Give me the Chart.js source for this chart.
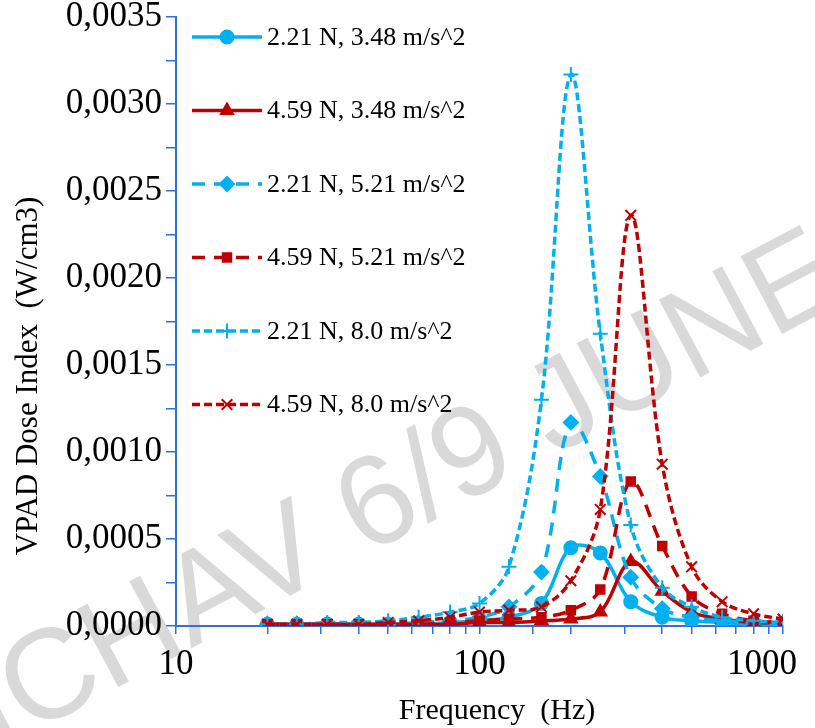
<!DOCTYPE html>
<html>
<head>
<meta charset="utf-8">
<script src="https://cdn.jsdelivr.net/npm/chart.js@4/dist/chart.umd.min.js"></script>
<style>
  html, body { margin: 0; padding: 0; background: #fff; }
  #wrap { width: 815px; height: 728px; position: relative; }
</style>
</head>
<body>
<div id="wrap"><canvas id="myChart" width="815" height="728"></canvas></div>
<script>
// 1/3 octave centre frequencies (Hz)
const freqs = [20, 25, 31.5, 40, 50, 63, 80, 100, 125, 160, 200, 250, 315, 400, 500, 630, 800, 1000];

const seriesNames = [
  "2.21 N, 3.48 m/s^2",
  "4.59 N, 3.48 m/s^2",
  "2.21 N, 5.21 m/s^2",
  "4.59 N, 5.21 m/s^2",
  "2.21 N, 8.0 m/s^2",
  "4.59 N, 8.0 m/s^2"
];

const f221a348 = [0.00001, 0.00001, 0.00001, 0.00001, 0.00001, 0.00001, 0.00002, 0.00003, 0.00005, 0.00013, 0.00045, 0.00042, 0.00014, 0.00005, 0.00003, 0.00002, 0.00001, 0.00001];
const f459a348 = [0.00001, 0.00001, 0.00001, 0.00001, 0.00001, 0.00001, 0.00001, 0.00002, 0.00002, 0.00003, 0.00004, 0.00008, 0.00037, 0.00020, 0.00008, 0.00004, 0.00002, 0.00002];
const f221a521 = [0.00001, 0.00001, 0.00001, 0.00001, 0.00001, 0.00002, 0.00003, 0.00005, 0.00011, 0.00031, 0.00117, 0.00086, 0.00028, 0.00010, 0.00005, 0.00003, 0.00002, 0.00001];
const f459a521 = [0.00001, 0.00001, 0.00001, 0.00001, 0.00001, 0.00001, 0.00002, 0.00003, 0.00004, 0.00005, 0.00009, 0.00021, 0.00083, 0.00046, 0.00017, 0.00007, 0.00003, 0.00002];
const f221a80 = [0.00001, 0.00001, 0.00002, 0.00002, 0.00003, 0.00005, 0.00008, 0.00013, 0.00034, 0.00130, 0.00317, 0.00168, 0.00058, 0.00022, 0.00011, 0.00005, 0.00003, 0.00002];
const f459a80 = [0.00001, 0.00001, 0.00001, 0.00001, 0.00002, 0.00003, 0.00005, 0.00008, 0.00009, 0.00011, 0.00026, 0.00067, 0.00236, 0.00093, 0.00034, 0.00014, 0.00007, 0.00004];

const yTicks = [0, 0.0005, 0.001, 0.0015, 0.002, 0.0025, 0.003, 0.0035];
const xTicks = [10, 100, 1000];

const CYAN = "#00B0F0";
const RED = "#C00000";
const AXIS = "#2F6FE3";
const SERIF = "'Liberation Serif', 'Times New Roman', serif";

const styles = [
  { color: CYAN, dash: [], point: "circle", r: 6.5 },
  { color: RED, dash: [], point: "triangle", r: 7 },
  { color: CYAN, dash: [13, 9], point: "rectRot", r: 7 },
  { color: RED, dash: [13, 9], point: "rect", r: 6 },
  { color: CYAN, dash: [8, 4], point: "cross", r: 7.5 },
  { color: RED, dash: [8, 4], point: "crossRot", r: 7.5 }
];

const allSeries = [f221a348, f459a348, f221a521, f459a521, f221a80, f459a80];

const datasets = allSeries.map((vals, i) => ({
  label: seriesNames[i],
  data: freqs.map((f, j) => ({ x: f, y: vals[j] })),
  borderColor: styles[i].color,
  backgroundColor: styles[i].color,
  borderWidth: 3.5,
  borderDash: styles[i].dash,
  pointStyle: styles[i].point,
  pointRadius: styles[i].r,
  pointBorderWidth: 2,
  pointBackgroundColor: styles[i].color,
  pointBorderColor: styles[i].color,
  tension: 0.35,
  fill: false,
  order: 5 - i
}));

// faint watermark behind everything
const watermark = {
  id: "watermark",
  beforeDraw(chart) {
    const ctx = chart.ctx;
    ctx.save();
    ctx.fillStyle = "#fff";
    ctx.fillRect(0, 0, chart.width, chart.height);
    ctx.translate(-4, 752);
    ctx.rotate(-28 * Math.PI / 180);
    ctx.font = "128px 'Liberation Sans', Arial, sans-serif";
    ctx.fillStyle = "#d9d9d9";
    ctx.textAlign = "left";
    ctx.textBaseline = "alphabetic";
    ctx.fillText("ICHAV 6/9 JUNE", 0, 0);
    ctx.restore();
  }
};

// legend drawn inside the plot, top left
const insideLegend = {
  id: "insideLegend",
  afterDatasetsDraw(chart) {
    const ctx = chart.ctx;
    chart.data.datasets.forEach((ds, i) => {
      const y = 37 + i * 73.5;
      ctx.save();
      ctx.strokeStyle = ds.borderColor;
      ctx.fillStyle = ds.borderColor;
      ctx.lineWidth = 3.5;
      ctx.setLineDash(ds.borderDash);
      ctx.beginPath();
      ctx.moveTo(192, y);
      ctx.lineTo(262, y);
      ctx.stroke();
      ctx.setLineDash([]);
      ctx.lineWidth = 2;
      Chart.helpers.drawPoint(ctx, {
        pointStyle: ds.pointStyle,
        rotation: 0,
        radius: ds.pointRadius,
        borderWidth: 2
      }, 227, y);
      ctx.fillStyle = "#000";
      ctx.font = "26px " + SERIF;
      ctx.textBaseline = "middle";
      ctx.textAlign = "left";
      ctx.fillText(ds.label, 267, y + 1);
      ctx.restore();
    });
  }
};

// x tick labels (kept inside the frame like Excel) and axis titles
const axisText = {
  id: "axisText",
  afterDraw(chart) {
    const ctx = chart.ctx;
    const xs = chart.scales.x;
    ctx.save();
    ctx.fillStyle = "#000";
    ctx.font = "35px " + SERIF;
    ctx.textAlign = "center";
    ctx.textBaseline = "middle";
    xTicks.forEach((v) => {
      const s = String(v);
      const w = ctx.measureText(s).width;
      const px = Math.min(xs.getPixelForValue(v), 797 - w / 2);
      ctx.fillText(s, px, 665);
    });
    ctx.font = "30px " + SERIF;
    ctx.fillText("Frequency  (Hz)", 497, 711);
    ctx.translate(29, 376);
    ctx.rotate(-Math.PI / 2);
    ctx.font = "31px " + SERIF;
    ctx.fillText("VPAD Dose Index  (W/cm3)", 0, 0);
    ctx.restore();
  }
};

const ctx = document.getElementById("myChart").getContext("2d");
const myChart = new Chart(ctx, {
  type: "line",
  data: { datasets: datasets },
  plugins: [watermark, insideLegend, axisText],
  options: {
    responsive: false,
    animation: false,
    layout: { padding: { top: 17, right: 32, left: 0, bottom: 0 } },
    plugins: {
      legend: { display: false },
      tooltip: { enabled: false }
    },
    scales: {
      x: {
        type: "logarithmic",
        min: 10,
        max: 1000,
        afterFit(scale) {
          scale.height = 102;
          scale.paddingLeft = 0;
          scale.paddingRight = 0;
        },
        border: { color: AXIS, width: 2 },
        grid: { drawOnChartArea: false, color: AXIS, tickLength: 8, lineWidth: 1.5 },
        ticks: { display: false, autoSkip: false }
      },
      y: {
        min: 0,
        max: 0.0035,
        afterFit(scale) {
          scale.width = 176;
          scale.paddingTop = 0;
          scale.paddingBottom = 0;
        },
        border: { color: AXIS, width: 2 },
        grid: { drawOnChartArea: false, color: AXIS, tickLength: 10, lineWidth: 1.5 },
        ticks: {
          stepSize: 0.00025,
          color: "#000",
          padding: 4,
          autoSkip: false,
          font: { family: SERIF, size: 35 },
          callback: (v) => {
            const k = Math.round(v / 0.00025);
            if (k % 2 !== 0) return "";
            return yTicks[k / 2].toFixed(4).replace(".", ",");
          }
        }
      }
    }
  }
});
</script>
</body>
</html>
